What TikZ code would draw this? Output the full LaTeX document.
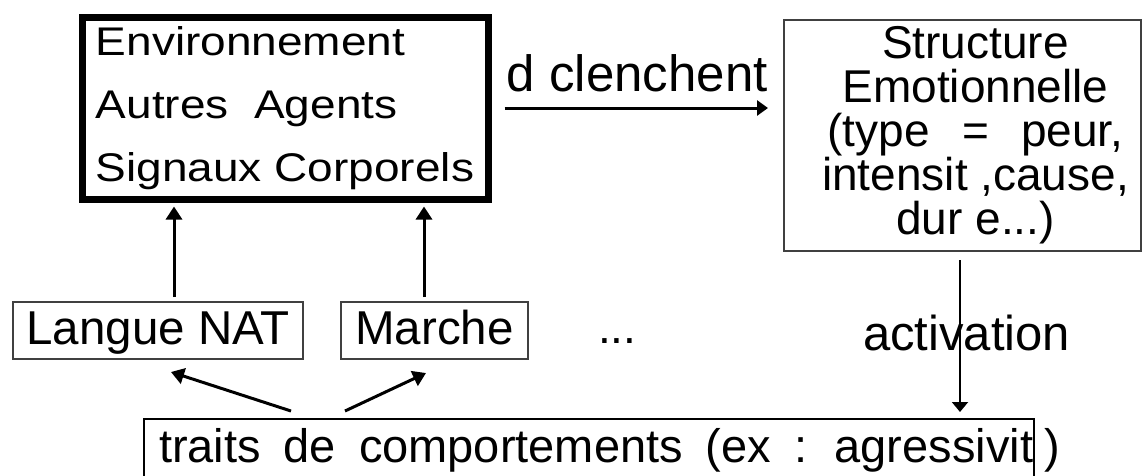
\documentclass[tikz,border=0pt]{standalone}
\usepackage{fontspec}
\setmainfont{Liberation Sans}
\newfontfamily\widefont[FakeStretch=1.15]{Liberation Sans}
\usepackage{tikz}
\usetikzlibrary{positioning}
\usetikzlibrary{arrows.meta}
\usetikzlibrary{calc}

\begin{document}
\begin{tikzpicture}[x=1pt, y=-1pt,
    thickbox/.style={draw, line width=7pt, inner sep=0pt, align=left,
        font={\fontsize{40}{63}\widefont}},
    smallbox/.style={draw=black!75, line width=2pt, inner sep=0pt,
        text height=36pt, text depth=9pt,
        font={\fontsize{47.5}{57}\selectfont}},
    emobox/.style={draw=black!75, line width=2pt, inner sep=0pt},
    emotext/.style={align=center, inner sep=0pt,
        font={\fontsize{46}{44}\selectfont}},
    traitbox/.style={draw, line width=2pt, inner xsep=15pt, inner ysep=0pt,
        font={\fontsize{47}{56}\selectfont\spaceskip=23pt}},
    lbl/.style={inner sep=0pt, font={\fontsize{#1}{#1}\selectfont}},
    arr/.style={-{Triangle[length=13pt, width=16pt]}, line width=3pt},
    thinarr/.style={-{Triangle[length=10pt, width=16pt]}, line width=2pt}]
    \useasboundingbox (0,0) rectangle (1142,475);

    \node[thickbox, anchor=north west, minimum width=406pt, minimum height=182pt]
        (env) at (78.5,13.5) {Environnement\\Autres\ \ Agents\\Signaux Corporels};
    \node[emobox, anchor=north west, minimum width=357pt, minimum height=231pt]
        (emo) at (783,19) {};
    \node[emotext] (emotxt) at ([xshift=13pt]emo.center)
        {Structure\\Emotionnelle\\(type\hspace{0.7em}=\hspace{0.7em}peur,\\intensit ,cause,\\dur e...)};

    \node[smallbox, anchor=north west, minimum width=290pt, minimum height=57pt]
        (lang) at (12,301) {Langue NAT};
    \node[smallbox, anchor=north west, minimum width=187pt, minimum height=57pt]
        (marche) at (340,301) {Marche};
    \node[lbl=46, anchor=base west] (dots) at (598,343) {...};
    \node[lbl=49, anchor=base west] (act) at (863,350) {activation};

    \node[traitbox, anchor=base west, text height=43pt, text depth=30pt]
        (traits) at (143,462) {\makebox[860pt][l]{traits de comportements (ex : agressivit}};
    \node[lbl=47, anchor=base west] (paren) at ([xshift=9pt]traits.base east) {)};

    \draw[arr, -{Triangle[length=11pt, width=15pt]}, shorten <=13pt, shorten >=15pt]
        (env.east) -- (env.east -| emo.west)
        node[lbl=51, midway, anchor=base, yshift=17pt] (dcl) {d clenchent};
    \draw[arr, shorten <=4pt, shorten >=4pt]
        ([xshift=16pt]lang.north) -- ([xshift=16pt]lang.north |- env.south);
    \draw[arr, shorten <=4pt, shorten >=4pt]
        ([xshift=-10.5pt]marche.north) -- ([xshift=-10.5pt]marche.north |- env.south);
    \draw[arr] ([xshift=148pt, yshift=7pt]traits.north west)
        -- ([xshift=13pt, yshift=-12pt]lang.south);
    \draw[arr] ([xshift=202pt, yshift=7pt]traits.north west)
        -- ([xshift=-8.5pt, yshift=-13pt]marche.south);
    \draw[thinarr, shorten <=8pt, shorten >=6pt]
        ([xshift=-2.5pt]emo.south) -- ([xshift=-2.5pt]emo.south |- traits.north);
\end{tikzpicture}
\end{document}
